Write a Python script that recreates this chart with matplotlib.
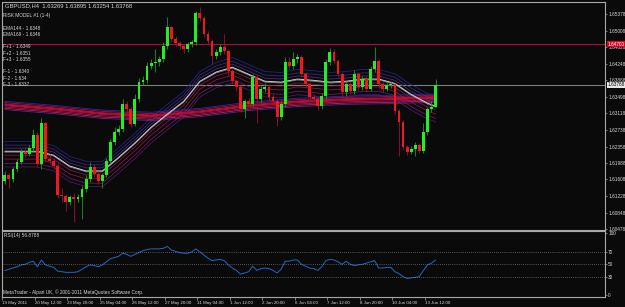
import numpy as np
import matplotlib
matplotlib.use("Agg")
import matplotlib.pyplot as plt
from matplotlib.transforms import blended_transform_factory

# GBPUSD H4, candles (open = previous close)
first_open = 1.6157
closes = [1.6171, 1.6162, 1.6184, 1.6200, 1.6223, 1.6219, 1.6232, 1.6262, 1.6196, 1.6289,
          1.6207, 1.6203, 1.6191, 1.6125, 1.6123, 1.6109, 1.6121, 1.6116, 1.6121, 1.6139,
          1.6162, 1.6189, 1.6173, 1.6157, 1.6171, 1.6203, 1.6246, 1.6269, 1.6276, 1.6333,
          1.6321, 1.6287, 1.6344, 1.6383, 1.6387, 1.6419, 1.6426, 1.6428, 1.6435, 1.6465,
          1.6508, 1.6481, 1.6472, 1.6465, 1.6458, 1.6469, 1.6474, 1.6540, 1.6529, 1.6492,
          1.6476, 1.6442, 1.6451, 1.6463, 1.6453, 1.6408, 1.6385, 1.6371, 1.6321, 1.6339,
          1.6333, 1.6394, 1.6344, 1.6367, 1.6371, 1.6349, 1.6339, 1.6303, 1.6333, 1.6428,
          1.6419, 1.6435, 1.6440, 1.6401, 1.6378, 1.6349, 1.6344, 1.6328, 1.6351, 1.6428,
          1.6451, 1.6431, 1.6401, 1.6360, 1.6378, 1.6362, 1.6401, 1.6371, 1.6390, 1.6367,
          1.6412, 1.6431, 1.6378, 1.6367, 1.6376, 1.6378, 1.6317, 1.6292, 1.6235, 1.6223,
          1.6230, 1.6239, 1.6225, 1.6269, 1.6321, 1.6327, 1.6377]
highs = [1.6180, 1.6176, 1.6190, 1.6208, 1.6230, 1.6234, 1.6240, 1.6275, 1.6268, 1.6300,
         1.6292, 1.6218, 1.6210, 1.6200, 1.6140, 1.6128, 1.6126, 1.6130, 1.6128, 1.6145,
         1.6170, 1.6200, 1.6195, 1.6180, 1.6176, 1.6210, 1.6252, 1.6280, 1.6284, 1.6345,
         1.6340, 1.6326, 1.6355, 1.6392, 1.6396, 1.6428, 1.6435, 1.6458, 1.6442, 1.6475,
         1.6531, 1.6512, 1.6488, 1.6478, 1.6470, 1.6474, 1.6480, 1.6546, 1.6555, 1.6534,
         1.6500, 1.6482, 1.6458, 1.6470, 1.6492, 1.6458, 1.6414, 1.6390, 1.6376, 1.6345,
         1.6346, 1.6402, 1.6400, 1.6375, 1.6380, 1.6376, 1.6356, 1.6344, 1.6340, 1.6440,
         1.6440, 1.6452, 1.6448, 1.6446, 1.6406, 1.6384, 1.6356, 1.6350, 1.6358, 1.6436,
         1.6462, 1.6458, 1.6436, 1.6406, 1.6386, 1.6384, 1.6410, 1.6406, 1.6398, 1.6396,
         1.6420, 1.6463, 1.6436, 1.6384, 1.6382, 1.6386, 1.6382, 1.6322, 1.6296, 1.6240,
         1.6236, 1.6246, 1.6244, 1.6290, 1.6326, 1.6340, 1.6390]
lows = [1.6150, 1.6140, 1.6155, 1.6178, 1.6195, 1.6212, 1.6214, 1.6226, 1.6190, 1.6185,
        1.6200, 1.6196, 1.6184, 1.6118, 1.6110, 1.6089, 1.6102, 1.6064, 1.6110, 1.6070,
        1.6132, 1.6155, 1.6166, 1.6150, 1.6140, 1.6165, 1.6198, 1.6240, 1.6262, 1.6270,
        1.6310, 1.6280, 1.6282, 1.6338, 1.6376, 1.6380, 1.6412, 1.6406, 1.6420, 1.6428,
        1.6458, 1.6474, 1.6466, 1.6458, 1.6450, 1.6452, 1.6464, 1.6468, 1.6522, 1.6485,
        1.6470, 1.6425, 1.6436, 1.6446, 1.6448, 1.6400, 1.6378, 1.6362, 1.6314, 1.6300,
        1.6326, 1.6328, 1.6290, 1.6338, 1.6360, 1.6342, 1.6332, 1.6282, 1.6296, 1.6326,
        1.6412, 1.6412, 1.6426, 1.6394, 1.6370, 1.6340, 1.6336, 1.6320, 1.6322, 1.6344,
        1.6422, 1.6424, 1.6394, 1.6350, 1.6352, 1.6354, 1.6356, 1.6364, 1.6366, 1.6360,
        1.6362, 1.6406, 1.6370, 1.6360, 1.6362, 1.6370, 1.6310, 1.6214, 1.6228, 1.6216,
        1.6218, 1.6214, 1.6220, 1.6220, 1.6262, 1.6314, 1.6325]

# fast moving average (white line with envelopes), read every 4 bars
fast_bars = [0, 4, 8, 12, 16, 20, 24, 28, 32, 36, 40, 44, 48, 52, 56, 60, 64, 68,
             72, 76, 80, 84, 88, 92, 96, 100, 104, 106]
fast_ma = [1.6225, 1.6225, 1.6225, 1.6216, 1.6191, 1.6180, 1.6180, 1.6211, 1.6244,
           1.6280, 1.6310, 1.6339, 1.6385, 1.6406, 1.6417, 1.6401, 1.6385, 1.6383,
           1.6390, 1.6387, 1.6383, 1.6385, 1.6390, 1.6390, 1.6380, 1.6355, 1.6335, 1.6328]
fast_bands = [0.0022, 0.0014, 0.0007, -0.0009, -0.0018, -0.0028, -0.0036]

# slow EMA144/169 ribbon with F bands
slow_bars = [0, 12, 24, 36, 48, 60, 72, 84, 96, 106]
slow_ma = [1.6330, 1.6321, 1.6310, 1.6305, 1.6314, 1.6328, 1.6337, 1.6342, 1.6344, 1.6347]
slow_bands = [0.0009, 0.0006, 0.0003, 0.0001, -0.0001, -0.0004, -0.0007, -0.0010]

rsi = [40, 42, 44, 46, 49, 50, 53, 55, 46, 57, 49, 47, 45, 39, 38, 37, 37, 37, 38, 42,
       46, 49, 48, 46, 49, 54, 59, 61, 63, 68, 66, 63, 66, 69, 72, 74, 75, 75, 75, 76,
       79, 73, 71, 69, 68, 68, 70, 75, 70, 65, 60, 56, 57, 58, 56, 49, 44, 40, 34, 36,
       38, 47, 40, 43, 44, 43, 40, 36, 42, 55, 55, 57, 57, 50, 47, 44, 43, 40, 46, 56,
       58, 57, 54, 50, 55, 50, 48, 49, 50, 52, 54, 56, 44, 44, 45, 45, 38, 35, 30, 27,
       28, 29, 30, 40, 49, 52, 56.88]

red_line = 1.6470
last_price = 1.63768
price_ticks = [1.65378, 1.65008, 1.64628, 1.64248, 1.63868, 1.63498, 1.63118, 1.62738,
               1.62358, 1.61988, 1.61608, 1.61228, 1.60848, 1.60478]
time_labels = ["19 May 2011", "20 May 12:00", "23 May 20:00", "25 May 04:00", "26 May 12:00",
               "27 May 20:00", "31 May 04:00", "1 Jun 12:00", "2 Jun 20:00", "6 Jun 04:00",
               "7 Jun 12:00", "8 Jun 20:00", "10 Jun 04:00", "13 Jun 12:00"]
legend_lines = ["RISK MODEL #1 (1-4)", "", "EMA144 - 1.6348", "EMA169 - 1.6346", "",
                "F+1 - 1.6349", "F+2 - 1.6351", "F+3 - 1.6355", "",
                "F-1 - 1.6340", "F-2 - 1.634", "F-3 - 1.6337"]

plt.rcParams["font.family"] = "Liberation Sans"

W, H = 625, 307
bg = "#0a0a0a"
fg = "#d8d8d8"
edge = "#a8a8a8"
fs = 3.4

fig = plt.figure(figsize=(W / 100, H / 100), dpi=100, facecolor=bg)
ax1 = fig.add_axes([2 / W, 1 - 230 / H, 603 / W, 228 / H], facecolor=bg)
ax2 = fig.add_axes([2 / W, 1 - 297 / H, 603 / W, 66 / H], facecolor=bg, sharex=ax1)

n = len(closes)
x = np.arange(n)
opens = np.array([first_open] + closes[:-1])
closes_a = np.array(closes)
up = closes_a >= opens

# moving average bundles (behind candles)
fast_ma = np.array(fast_ma)
fast_cols = ["#26269a", "#3a2c9a", "#5a2a8e", "#8a1a5a", "#a0183e", "#7a1a78", "#5a1a70"]
for off, c in zip(fast_bands, fast_cols):
    ax1.plot(fast_bars, fast_ma + off, color=c, lw=0.5, zorder=1)
ax1.plot(fast_bars, fast_ma - 0.0002, color="#8a8a8a", lw=0.6, zorder=2)
ax1.plot(fast_bars, fast_ma, color="#e0e0e0", lw=0.6, zorder=2)

slow_ma = np.array(slow_ma)
slow_cols = ["#2a2aa0", "#a01060", "#d01038", "#e81030", "#c01048", "#a01860", "#d02040", "#4a2a9a"]
for off, c in zip(slow_bands, slow_cols):
    ax1.plot(slow_bars, slow_ma + off, color=c, lw=0.6, zorder=1)

# candles
ax1.vlines(x[up], np.array(lows)[up], np.array(highs)[up], color="#1c9a1c", lw=0.6, zorder=3)
ax1.vlines(x[~up], np.array(lows)[~up], np.array(highs)[~up], color="#9a1034", lw=0.6, zorder=3)
body = np.abs(closes_a - opens)
body = np.maximum(body, 0.00008)
ax1.bar(x[up], body[up], bottom=opens[up], width=0.7, color="#22f022", lw=0, zorder=4)
ax1.bar(x[~up], body[~up], bottom=closes_a[~up], width=0.7, color="#f01818", lw=0, zorder=4)

# horizontal lines
ax1.axhline(red_line, color="#a0103a", lw=0.8, zorder=0)
ax1.axhline(last_price, color="#808080", lw=0.8, zorder=0)

ax1.set_ylim(1.6045, 1.6566)
ax1.set_xlim(-0.25, 147.7)
ax1.yaxis.tick_right()
ax1.set_yticks(price_ticks)
ax1.set_yticklabels(["%.5f" % v for v in price_ticks])
ax1.tick_params(axis="y", colors=edge, labelcolor=fg, labelsize=fs, length=1.5, width=0.5, pad=0.8)
ax1.tick_params(axis="x", bottom=False, labelbottom=False)

tr = blended_transform_factory(ax1.transAxes, ax1.transData)
ax1.text(1.004, red_line, "%.5f" % red_line, transform=tr, fontsize=fs, color="white",
         va="center", ha="left", bbox=dict(boxstyle="square,pad=0.15", fc="#e00020", ec="none"))
ax1.text(1.004, last_price, "%.5f" % last_price, transform=tr, fontsize=fs, color="black",
         va="center", ha="left", bbox=dict(boxstyle="square,pad=0.15", fc="#e8e8e8", ec="none"))

# RSI panel
ax2.plot(x, rsi, color="#2068c8", lw=0.7)
for lvl in [70, 50, 30]:
    ax2.axhline(lvl, color="#9a9a9a", lw=0.5, ls=(0, (1, 2)))
ax2.set_ylim(-3, 104)
ax2.yaxis.tick_right()
ax2.set_yticks([100, 70, 50, 30, 0])
ax2.tick_params(axis="y", colors=edge, labelcolor=fg, labelsize=fs, length=1.5, width=0.5, pad=0.8)
label_bars = np.arange(len(time_labels)) * 8
ax2.set_xticks(label_bars - 0.7)
ax2.set_xticklabels(time_labels, ha="left")
ax2.tick_params(axis="x", colors=edge, labelcolor=fg, labelsize=3.2, length=2, width=0.5, pad=1)

for ax in (ax1, ax2):
    for s in ax.spines.values():
        s.set_color(edge)
        s.set_linewidth(0.8)

# texts
fig.text(5 / W, 1 - 6 / H, "GBPUSD,H4  1.63269 1.63895 1.63254 1.63768", fontsize=4.2,
         color=fg, va="center")
for k, line in enumerate(legend_lines):
    if line:
        fig.text(3 / W, 1 - (16 + k * 6.2) / H, line, fontsize=3.4, color=fg, va="center")
fig.text(4 / W, 1 - 236 / H, "RSI(14) 56.8788", fontsize=3.4, color=fg, va="center")
fig.text(3 / W, 1 - 292 / H, "MetaTrader - Alpari UK, \u00a9 2001-2011 MetaQuotes Software Corp.",
         fontsize=3.4, color=fg, va="center")

fig.savefig("out.png", dpi=100, facecolor=bg)
